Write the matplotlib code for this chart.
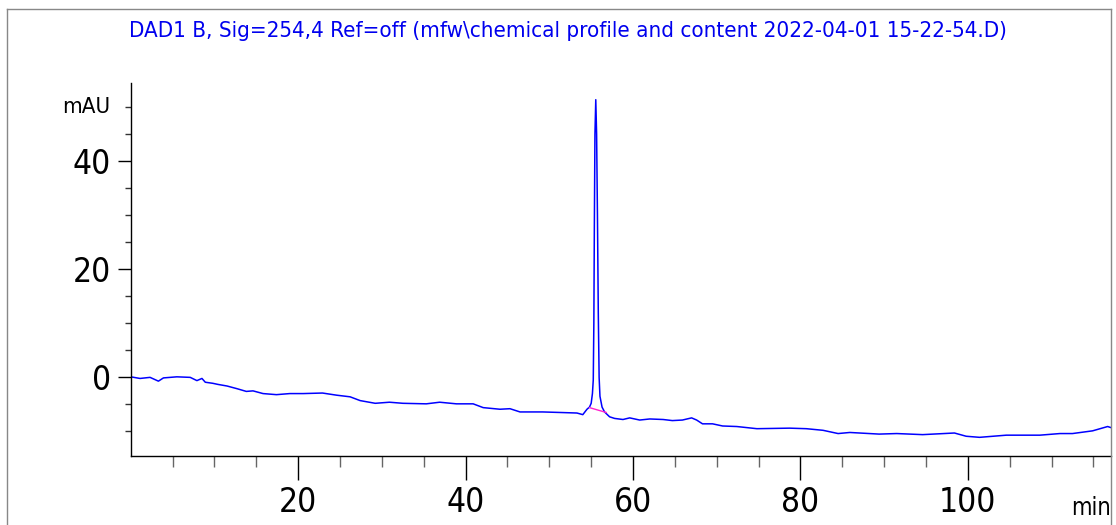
import matplotlib
matplotlib.use("Agg")
import matplotlib.pyplot as plt
from matplotlib.lines import Line2D
from matplotlib.ticker import FixedLocator

plt.rcParams['font.family'] = ['DejaVu Sans']
plt.rcParams['font.stretch'] = 'condensed'

# DAD1 B signal, time in min, absorbance in mAU
time_min = [0.0, 1.1, 2.3, 3.3, 3.9, 5.5, 7.1, 7.9, 8.5, 8.9, 9.8, 10.4, 11.5, 12.7,
            13.8, 14.6, 15.8, 17.4, 19.0, 20.6, 22.9, 24.6, 26.2, 27.4, 29.2, 30.9,
            32.5, 35.3, 36.9, 38.9, 40.9, 42.1, 44.1, 45.3, 46.5, 49.2, 51.3, 53.3,
            54.0, 54.5, 54.8,
            55.0, 55.15, 55.25, 55.32, 55.38, 55.45, 55.55, 55.65, 55.75, 55.85, 55.95,
            56.05, 56.3, 56.6, 57.0,
            57.2, 57.8, 58.8, 59.6, 60.8, 62.0, 63.6, 64.7, 65.9, 67.0, 67.6, 68.3,
            69.5, 70.7, 72.4, 74.8, 78.7, 80.7, 82.7, 84.5, 85.9, 89.4, 91.5, 94.6,
            98.4, 99.8, 101.4, 104.6, 108.6, 111.0, 112.5, 114.9, 116.7, 117.1]
signal_mau = [0.1, -0.2, 0.0, -0.7, -0.1, 0.1, 0.0, -0.6, -0.2, -0.9, -1.1, -1.3, -1.6, -2.1,
              -2.6, -2.5, -3.0, -3.2, -3.0, -3.0, -2.9, -3.3, -3.6, -4.3, -4.8, -4.6,
              -4.8, -4.9, -4.6, -4.9, -4.9, -5.6, -5.9, -5.8, -6.4, -6.4, -6.5, -6.6,
              -6.9, -5.9, -5.5,
              -4.8, -3.0, -0.5, 10.0, 28.0, 45.0, 51.4, 45.0, 30.0, 12.0, 0.0,
              -3.5, -5.5, -6.4, -7.0,
              -7.3, -7.6, -7.8, -7.5, -7.9, -7.7, -7.8, -8.0, -7.9, -7.5, -7.9, -8.6,
              -8.6, -9.0, -9.1, -9.5, -9.4, -9.5, -9.8, -10.4, -10.2, -10.5, -10.4, -10.6,
              -10.3, -10.9, -11.1, -10.7, -10.7, -10.4, -10.4, -9.9, -9.1, -9.3]

# integration baseline under the main peak
base_t = [54.8, 56.8]
base_y = [-5.6, -6.5]

title = "DAD1 B, Sig=254,4 Ref=off (mfw\\chemical profile and content 2022-04-01 15-22-54.D)"

fig = plt.figure(figsize=(11.16, 5.25), dpi=100)
ax = fig.add_axes([0.1172, 0.132, 0.9955 - 0.1172, 0.842 - 0.132])

ax.plot(time_min, signal_mau, color='#0000ff', lw=1.1)
ax.plot(base_t, base_y, color='#ff22cc', lw=1.0)

ax.set_xlim(0, 117.1)
ax.set_ylim(-14.5, 54.5)

ax.spines['top'].set_visible(False)
ax.spines['right'].set_visible(False)
for s in ('left', 'bottom'):
    ax.spines[s].set_linewidth(1.0)

ax.xaxis.set_major_locator(FixedLocator([20, 40, 60, 80, 100]))
ax.xaxis.set_minor_locator(FixedLocator([5, 10, 15, 25, 30, 35, 45, 50, 55, 65, 70, 75,
                                         85, 90, 95, 105, 110, 115]))
ax.yaxis.set_major_locator(FixedLocator([0, 20, 40]))
ax.yaxis.set_minor_locator(FixedLocator([-10, -5, 5, 10, 15, 25, 30, 35, 45, 50]))

ax.tick_params(axis='x', which='major', length=17, width=1, pad=5, labelsize=24)
ax.tick_params(axis='x', which='minor', length=8, width=1, color='#666666')
ax.tick_params(axis='y', which='major', length=9.5, width=1, pad=5, labelsize=24)
ax.tick_params(axis='y', which='minor', length=4.5, width=1, color='#333333')

ax.annotate('mAU', xy=(0, 50), xycoords=('axes fraction', 'data'),
            xytext=(-21, 0), textcoords='offset pixels',
            ha='right', va='center', fontsize=16)
ax.annotate('min', xy=(1, 0), xycoords='axes fraction',
            xytext=(0, -52), textcoords='offset pixels',
            ha='right', va='center', fontsize=17)

fig.text(0.509, 0.941, title, color='#0000ee', fontsize=16, ha='center', va='center')

# outer frame
frame = dict(color='#888888', lw=1.0, transform=fig.transFigure)
fig.add_artist(Line2D([7 / 1116, 7 / 1116], [0, 1 - 9 / 525], **frame))
fig.add_artist(Line2D([7 / 1116, 1111 / 1116], [1 - 9 / 525, 1 - 9 / 525], **frame))
fig.add_artist(Line2D([1111 / 1116, 1111 / 1116], [0, 1 - 9 / 525], **frame))

fig.savefig('out.png', dpi=100)
